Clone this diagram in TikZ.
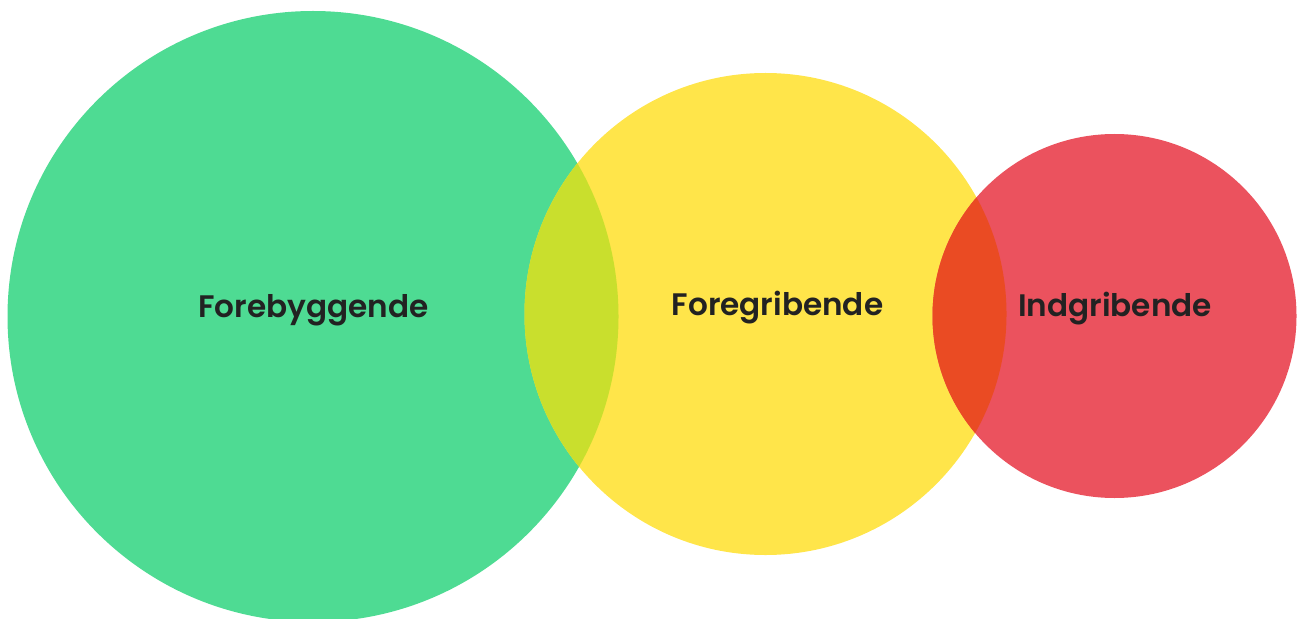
\documentclass[tikz,border=0pt]{standalone}
\usepackage{fontspec}
\newfontfamily\labelfont{Poppins SemiBold}
\usepackage{tikz}
\usetikzlibrary{positioning}

\definecolor{fgreen}{HTML}{4EDB93}
\definecolor{fyellow}{HTML}{FFE54A}
\definecolor{fred}{HTML}{EB525E}
\definecolor{flime}{HTML}{C9DF2D}
\definecolor{forange}{HTML}{EA4B23}
\definecolor{ftext}{HTML}{222222}

\tikzset{
  phase/.style={font=\labelfont\fontsize{17.7}{21}\selectfont, text=ftext, anchor=base, inner sep=0pt}
}

\begin{document}
\begin{tikzpicture}[x=0.02cm, y=-0.02cm]
\clip (0,0) rectangle (1300,618);
\useasboundingbox (0,0) rectangle (1300,618);
% circles
\coordinate (cgreen) at (313,316.5);
\coordinate (cyellow) at (765.5,314);
\coordinate (cred) at (1114.5,316);
\fill [fgreen] (cgreen) circle (305.5);
\fill [fyellow] (cyellow) circle (241);
\fill [fred] (cred) circle (182);
% overlaps
\begin{scope}
\clip (cgreen) circle (305.5);
\fill [flime] (cyellow) circle (241);
\end{scope}
\begin{scope}
\clip (cyellow) circle (241);
\fill [forange] (cred) circle (182);
\end{scope}
% labels
\node [phase] (forebyg) at (313.5,317) {Forebyggende};
\node [phase] (foregrib) at (777.5,315) {Foregribende};
\node [phase] (indgrib) at (1115,316) {Indgribende};
\end{tikzpicture}
\end{document}
